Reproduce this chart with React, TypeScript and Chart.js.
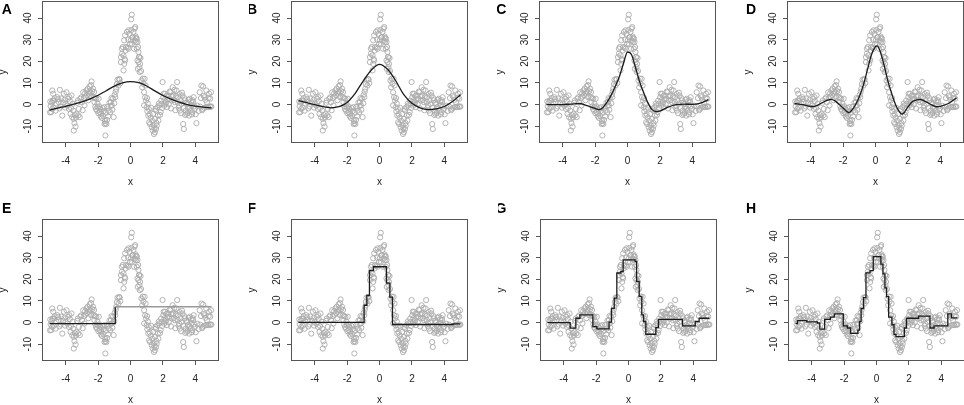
import { useEffect, useRef } from "react";
import { Chart, registerables } from "chart.js";

Chart.register(...registerables);

// ---------------- data ----------------
// observed points (x, y), shared by all eight panels
const observations: [number, number][] = [
  [-4.97,-3.6],[-4.95,1.4],[-4.93,-0.8],[-4.89,-3.5],[-4.86,0.9],[-4.83,6.5],[-4.83,-2.0],[-4.8,1.8],[-4.77,5.0],[-4.74,-1.5],[-4.72,1.9],[-4.68,3.0],[-4.62,-2.8],[-4.58,0.5],[-4.52,3.4],[-4.47,2.5],[-4.42,1.1],[-4.39,-1.8],[-4.36,6.8],[-4.31,-0.9],[-4.27,2.8],[-4.21,-5.1],[-4.17,0.9],[-4.11,5.0],[-4.07,2.2],[-4.04,-1.4],[-4.01,0.3],
  [-3.95,5.7],[-3.9,-0.5],[-3.86,2.7],[-3.8,-2.0],[-3.77,3.4],[-3.74,1.6],[-3.7,-4.3],[-3.67,-1.6],[-3.64,4.2],[-3.6,-5.8],[-3.57,0.4],[-3.54,-2.8],[-3.5,-6.6],[-3.5,-12.0],[-3.46,-8.6],[-3.43,-4.9],[-3.39,-10.2],[-3.36,-6.0],[-3.33,-4.3],[-3.29,0.8],[-3.25,1.9],[-3.22,-5.0],[-3.19,-2.0],[-3.13,-5.8],[-3.09,2.7],[-3.05,3.3],
  [-2.99,1.1],[-2.95,-2.6],[-2.92,5.7],[-2.88,3.0],[-2.84,-0.4],[-2.8,5.2],[-2.78,3.7],[-2.72,6.5],[-2.68,4.4],[-2.64,7.3],[-2.6,2.0],[-2.58,5.0],[-2.55,6.0],[-2.52,8.4],[-2.47,5.7],[-2.44,9.0],[-2.43,3.4],[-2.4,10.7],[-2.36,6.2],[-2.31,7.3],[-2.27,3.4],[-2.25,5.8],[-2.23,1.1],[-2.19,3.0],[-2.17,-0.9],[-2.13,-2.0],[-2.11,2.7],[-2.07,-2.8],[-2.04,0.4],[-2.02,-1.2],
  [-1.98,-4.0],[-1.96,2.7],[-1.93,-0.8],[-1.9,-3.5],[-1.86,-2.0],[-1.83,-5.5],[-1.8,-4.3],[-1.76,-6.2],[-1.73,-1.6],[-1.7,-5.1],[-1.66,-3.0],[-1.62,-1.2],[-1.6,-9.0],[-1.57,-7.6],[-1.55,-8.6],[-1.55,-14.3],[-1.52,-3.8],[-1.49,-9.0],[-1.45,-7.1],[-1.42,-1.0],[-1.38,-5.5],[-1.35,-2.8],[-1.3,0.9],[-1.25,-3.5],[-1.22,-0.6],[-1.21,1.1],[-1.17,3.0],[-1.15,-0.4],[-1.12,-2.4],[-1.08,2.7],[-1.04,-5.8],[-1.0,0.6],
  [-0.97,4.6],[-0.94,3.4],[-0.91,6.0],[-0.88,7.3],[-0.84,9.5],[-0.8,11.5],[-0.74,8.8],[-0.7,11.8],[-0.67,11.6],[-0.63,9.9],[-0.59,19.6],[-0.59,21.9],[-0.53,23.5],[-0.53,25.8],[-0.47,26.6],[-0.43,22.7],[-0.43,15.8],[-0.39,18.8],[-0.39,29.7],[-0.36,21.0],[-0.33,20.4],[-0.33,32.0],[-0.3,25.0],[-0.27,26.6],[-0.22,33.5],[-0.18,26.3],[-0.15,30.0],[-0.12,34.3],[-0.12,25.8],[-0.06,32.7],[-0.03,28.0],
  [0.02,29.7],[0.04,39.4],[0.06,34.5],[0.08,41.5],[0.08,28.1],[0.11,31.0],[0.14,31.2],[0.18,33.5],[0.22,25.8],[0.25,35.1],[0.27,29.5],[0.29,35.8],[0.31,31.5],[0.33,28.9],[0.36,30.8],[0.39,25.8],[0.39,30.4],[0.43,28.9],[0.43,20.4],[0.45,16.5],[0.47,26.6],[0.49,24.3],[0.49,19.6],[0.52,22.0],[0.55,21.9],[0.55,17.3],[0.57,15.0],[0.59,18.8],[0.62,21.5],[0.65,15.5],[0.68,11.1],[0.72,8.0],[0.76,12.0],[0.8,9.6],[0.84,5.7],[0.84,-0.4],[0.87,11.9],[0.9,3.4],[0.93,8.8],[0.96,1.9],
  [1.0,-1.2],[1.02,3.0],[1.04,-3.1],[1.07,0.5],[1.1,-5.1],[1.13,-2.0],[1.15,-8.2],[1.18,-4.5],[1.21,-9.0],[1.25,-6.0],[1.28,-1.5],[1.31,-10.5],[1.34,-7.5],[1.37,-12.0],[1.4,-4.3],[1.43,-9.5],[1.45,-13.6],[1.48,-11.0],[1.51,-12.8],[1.51,-6.6],[1.54,-2.0],[1.57,-11.3],[1.57,-2.8],[1.6,-8.5],[1.62,-9.7],[1.66,-1.2],[1.69,-5.0],[1.72,-7.4],[1.75,0.5],[1.78,-0.4],[1.82,-4.8],[1.86,-3.5],[1.89,1.8],[1.92,0.3],[1.95,-1.6],[1.98,10.4],
  [2.02,3.4],[2.05,5.0],[2.08,-0.5],[2.1,2.0],[2.13,5.0],[2.16,0.5],[2.19,1.1],[2.22,4.0],[2.25,-1.2],[2.28,2.4],[2.33,4.2],[2.36,0.2],[2.39,2.7],[2.42,6.0],[2.47,5.7],[2.5,-1.8],[2.54,1.9],[2.57,3.8],[2.6,8.0],[2.64,4.2],[2.67,2.0],[2.71,6.8],[2.74,1.1],[2.77,-2.6],[2.8,4.0],[2.84,6.5],[2.88,10.4],[2.91,1.2],[2.94,3.4],[2.97,-1.5],
  [3.0,-0.4],[3.03,4.8],[3.05,-2.8],[3.09,2.0],[3.12,-4.0],[3.15,0.3],[3.18,5.5],[3.21,4.2],[3.25,-9.0],[3.27,-1.6],[3.29,-11.3],[3.32,3.0],[3.35,1.9],[3.38,-4.8],[3.41,-2.8],[3.44,0.8],[3.46,-4.3],[3.5,0.3],[3.53,-3.8],[3.56,-1.2],[3.59,2.2],[3.62,-5.1],[3.64,-1.8],[3.66,2.7],[3.7,-2.8],[3.73,1.5],[3.76,-0.4],[3.79,-4.5],[3.82,-3.5],[3.84,2.0],[3.86,1.1],[3.9,3.4],[3.93,-0.8],[3.97,-2.0],
  [4.02,-4.5],[4.07,-8.6],[4.12,-0.5],[4.2,-3.0],[4.27,5.7],[4.3,-1.0],[4.35,3.0],[4.38,8.8],[4.42,-2.6],[4.44,-2.0],[4.48,8.4],[4.52,4.0],[4.55,-1.5],[4.58,3.4],[4.62,2.2],[4.65,-1.2],[4.68,6.5],[4.72,1.1],[4.75,-1.0],[4.79,-1.2],[4.82,3.0],[4.85,5.0],[4.89,-0.9],[4.92,2.7],[4.95,-1.0],[4.97,5.7],[4.99,-0.9],
];

// fitted curves
const halfGridX = [-5,-4.5,-4,-3.5,-3,-2.5,-2,-1.5,-1,-0.5,0,0.5,1,1.5,2,2.5,3,3.5,4,4.5,5];
const fitA_Y = [-2.6,-1.6,-0.8,0.2,1.2,2.6,4.3,6.4,8.5,10.0,10.6,10.1,8.6,6.3,4.2,2.5,1.1,0.0,-0.7,-1.2,-1.5];
const fitB_Y = [1.8,0.9,0.0,-1.0,-1.5,-1.0,1.0,5.2,11.0,16.0,18.6,16.3,11.0,4.6,0.6,-1.5,-2.3,-2.0,-0.9,1.4,4.5];

const fitC_X = [-5,-4.5,-4,-3.5,-3,-2.5,-2,-1.75,-1.5,-1.25,-1,-0.75,-0.5,-0.25,0,0.25,0.5,0.75,1,1.25,1.5,1.75,2,2.5,3,3.5,4,4.5,5];
const fitC_Y = [0,0,0,0.2,0.5,-0.5,-1.8,-2.3,-1.2,1.2,4.5,8.5,13,19,24.3,23,17,10.5,5.5,1,-2.2,-3.2,-3,-1.2,0,0.2,0.1,0.7,2.3];

const fitD_X = [-5,-4.5,-4,-3.75,-3.5,-3,-2.75,-2.5,-2,-1.75,-1.65,-1.5,-1.25,-1,-0.75,-0.5,-0.25,0,0.1,0.25,0.5,0.75,1,1.25,1.5,1.62,1.75,2,2.25,2.5,2.75,3,3.5,3.75,4,4.5,5];
const fitD_Y = [0.5,0.0,-0.9,-0.8,0.0,1.9,2.4,1.7,-1.6,-3.3,-3.7,-3.0,-0.3,3.6,9.0,16.0,23.0,26.8,27.1,25.3,19.1,11.3,5.1,-0.3,-3.6,-4.4,-3.9,-1.1,1.2,2.0,2.4,1.7,-0.3,-1.0,-0.8,0.5,3.1];

const stepE_X = [-5,-0.94,5];
const stepE_Y = [-0.5,7.3,7.3];

const stepF_X = [-5,-0.95,-0.78,-0.62,-0.37,0.43,0.64,0.8,4.55,5];
const stepF_Y = [0.1,8,12.5,24,25.8,18.2,11.8,-0.9,-0.6,-0.6];

const stepG_X = [-5,-3.6,-3.25,-3.0,-2.2,-1.95,-1.2,-1.05,-0.88,-0.72,-0.47,-0.33,0.41,0.5,0.66,0.82,0.93,1.07,1.69,1.85,3.33,4.12,4.36,5];
const stepG_Y = [0,-2.6,2.0,3.6,-1.9,-2.9,0.2,6.6,11.3,22.9,23.6,29,28.3,19,12.1,3.6,0.5,-5.4,-2.3,1.5,-1.5,0.5,2.0,2.0];

const stepH_X = [-5,-4.88,-4.3,-3.65,-3.5,-3.2,-2.85,-2.6,-2.05,-1.8,-1.6,-1.15,-1.05,-0.95,-0.8,-0.65,-0.4,-0.2,0.27,0.4,0.52,0.62,0.75,0.95,1.08,1.2,1.72,1.85,2.6,3.3,3.55,4.4,4.62,5];
const stepH_Y = [-0.5,0.9,0.3,-0.2,-3.0,1.5,2.5,4.0,-1.5,-2.5,-5.0,-3.5,0.5,6.5,11.5,23,24,30.5,27,22.5,16,12,2.5,-1,-5.5,-6.5,-2.5,2.0,3.0,-2.5,-1.5,4.0,2.2,2.2];

const xTickValues = [-4, -2, 0, 2, 4];
const yTickValues = [-10, 0, 10, 20, 30, 40];
const panelLetters = ["A", "B", "C", "D", "E", "F", "G", "H"];

// ---------------- styling / layout ----------------
const FONT = "'Liberation Sans', Arial, Helvetica, sans-serif";
const POINT_COLOR = "#ababab";
const LINE_COLOR = "#1c1c1c";
const LINE_GRAY = "#9a9a9a";
const BOX_COLOR = "#555555";
const TEXT_COLOR = "#222222";
const X_MIN = -5.4, X_MAX = 5.4, Y_MIN = -17.3, Y_MAX = 47.4;

const Y_AXIS_W = 43;
const X_AXIS_H = 50;
const PAD_TOP = 20;
const PAD_RIGHT = 5;
const BOX_W = 175;
const BOX_H = 140;
const CW = Y_AXIS_W + BOX_W + PAD_RIGHT;
const CH = PAD_TOP + BOX_H + X_AXIS_H;

type Spec = {
  letter: string;
  boxLeft: number;
  boxTop: number;
  letterX: number;
  letterY: number;
  xs: number[];
  ys: number[];
  stepped: boolean;
  grayAfterFirst?: boolean;
};

const specs: Spec[] = [
  { letter: panelLetters[0], boxLeft: 43, boxTop: 2, letterX: 6.7, letterY: 8.7, xs: halfGridX, ys: fitA_Y, stepped: false },
  { letter: panelLetters[1], boxLeft: 292, boxTop: 2, letterX: 252, letterY: 8.7, xs: halfGridX, ys: fitB_Y, stepped: false },
  { letter: panelLetters[2], boxLeft: 540, boxTop: 2, letterX: 501.3, letterY: 8.7, xs: fitC_X, ys: fitC_Y, stepped: false },
  { letter: panelLetters[3], boxLeft: 788, boxTop: 2, letterX: 751, letterY: 8.7, xs: fitD_X, ys: fitD_Y, stepped: false },
  { letter: panelLetters[4], boxLeft: 43, boxTop: 220, letterX: 6.7, letterY: 208.3, xs: stepE_X, ys: stepE_Y, stepped: true, grayAfterFirst: true },
  { letter: panelLetters[5], boxLeft: 292, boxTop: 220, letterX: 251.7, letterY: 208.3, xs: stepF_X, ys: stepF_Y, stepped: true },
  { letter: panelLetters[6], boxLeft: 541, boxTop: 220, letterX: 501, letterY: 208.3, xs: stepG_X, ys: stepG_Y, stepped: true },
  { letter: panelLetters[7], boxLeft: 789, boxTop: 220, letterX: 751, letterY: 208.3, xs: stepH_X, ys: stepH_Y, stepped: true },
];

Chart.defaults.font.family = FONT;

function Panel({ spec }: { spec: Spec }) {
  const ref = useRef<HTMLCanvasElement>(null);
  const canvasLeft = spec.boxLeft - Y_AXIS_W;
  const canvasTop = spec.boxTop - PAD_TOP;

  useEffect(() => {
    if (!ref.current) return;
    const lineData = spec.xs.map((x, i) => ({ x, y: spec.ys[i] }));
    const pointData = observations.map(([x, y]) => ({ x, y }));

    const decor = {
      id: "decor",
      afterDraw(chart: any) {
        const { ctx, chartArea: a } = chart;
        ctx.save();
        // box
        ctx.strokeStyle = BOX_COLOR;
        ctx.lineWidth = 1;
        ctx.strokeRect(a.left - 0.5, a.top - 0.5, a.right - a.left + 1, a.bottom - a.top + 1);
        // axis titles
        ctx.fillStyle = TEXT_COLOR;
        ctx.font = `10px ${FONT}`;
        ctx.textAlign = "center";
        ctx.textBaseline = "middle";
        ctx.fillText("x", (a.left + a.right) / 2, a.bottom + 40.5);
        ctx.save();
        ctx.translate(a.left - 40, (a.top + a.bottom) / 2);
        ctx.rotate(-Math.PI / 2);
        ctx.fillText("y", 0, 0);
        ctx.restore();
        // panel letter
        ctx.fillStyle = "#000";
        ctx.font = `bold 14px ${FONT}`;
        ctx.textAlign = "center";
        ctx.textBaseline = "alphabetic";
        ctx.fillText(spec.letter, spec.letterX - canvasLeft, spec.letterY - canvasTop + 5);
        ctx.restore();
      },
    };

    const lineDataset: any = {
      type: "line",
      data: lineData,
      borderColor: LINE_COLOR,
      borderWidth: 1.3,
      pointRadius: 0,
      fill: false,
      stepped: spec.stepped ? "before" : false,
      cubicInterpolationMode: spec.stepped ? "default" : "monotone",
    };
    if (spec.grayAfterFirst) {
      lineDataset.segment = {
        borderColor: (c: any) => (c.p0DataIndex >= 1 ? LINE_GRAY : LINE_COLOR),
      };
    }

    const chart = new Chart(ref.current, {
      type: "scatter",
      data: {
        datasets: [
          lineDataset,
          {
            type: "scatter",
            data: pointData,
            pointStyle: "circle",
            pointRadius: 2.6,
            borderWidth: 0.9,
            borderColor: POINT_COLOR,
            backgroundColor: "rgba(0,0,0,0)",
          } as any,
        ],
      },
      options: {
        animation: false,
        responsive: false,
        events: [],
        layout: { padding: { left: 0, right: PAD_RIGHT, top: PAD_TOP, bottom: 0 } },
        plugins: { legend: { display: false }, tooltip: { enabled: false } },
        scales: {
          x: {
            type: "linear",
            min: X_MIN,
            max: X_MAX,
            afterBuildTicks: (s: any) => {
              s.ticks = xTickValues.map((v) => ({ value: v }));
            },
            afterFit: (s: any) => {
              s.height = X_AXIS_H;
            },
            grid: { display: true, drawOnChartArea: false, drawTicks: true, tickLength: 5, color: BOX_COLOR, lineWidth: 1 },
            border: { display: false },
            ticks: { color: TEXT_COLOR, font: { size: 10, family: FONT }, padding: 8, maxRotation: 0, minRotation: 0, autoSkip: false },
          },
          y: {
            type: "linear",
            min: Y_MIN,
            max: Y_MAX,
            afterBuildTicks: (s: any) => {
              s.ticks = yTickValues.map((v) => ({ value: v }));
            },
            afterFit: (s: any) => {
              s.width = Y_AXIS_W;
            },
            grid: { display: true, drawOnChartArea: false, drawTicks: true, tickLength: 5, color: BOX_COLOR, lineWidth: 1 },
            border: { display: false },
            ticks: { color: TEXT_COLOR, font: { size: 10, family: FONT }, padding: 3, minRotation: 90, maxRotation: 90, crossAlign: "center", autoSkip: false },
          },
        },
      } as any,
      plugins: [decor],
    });
    return () => chart.destroy();
  }, []);

  return (
    <canvas
      ref={ref}
      width={CW}
      height={CH}
      style={{ position: "absolute", left: canvasLeft, top: canvasTop, width: CW, height: CH }}
    />
  );
}

export default function App() {
  return (
    <div
      style={{
        position: "fixed",
        left: 0,
        top: 0,
        width: 964,
        height: 405,
        overflow: "hidden",
        background: "#ffffff",
      }}
    >
      {specs.map((s) => (
        <Panel key={s.letter} spec={s} />
      ))}
    </div>
  );
}
